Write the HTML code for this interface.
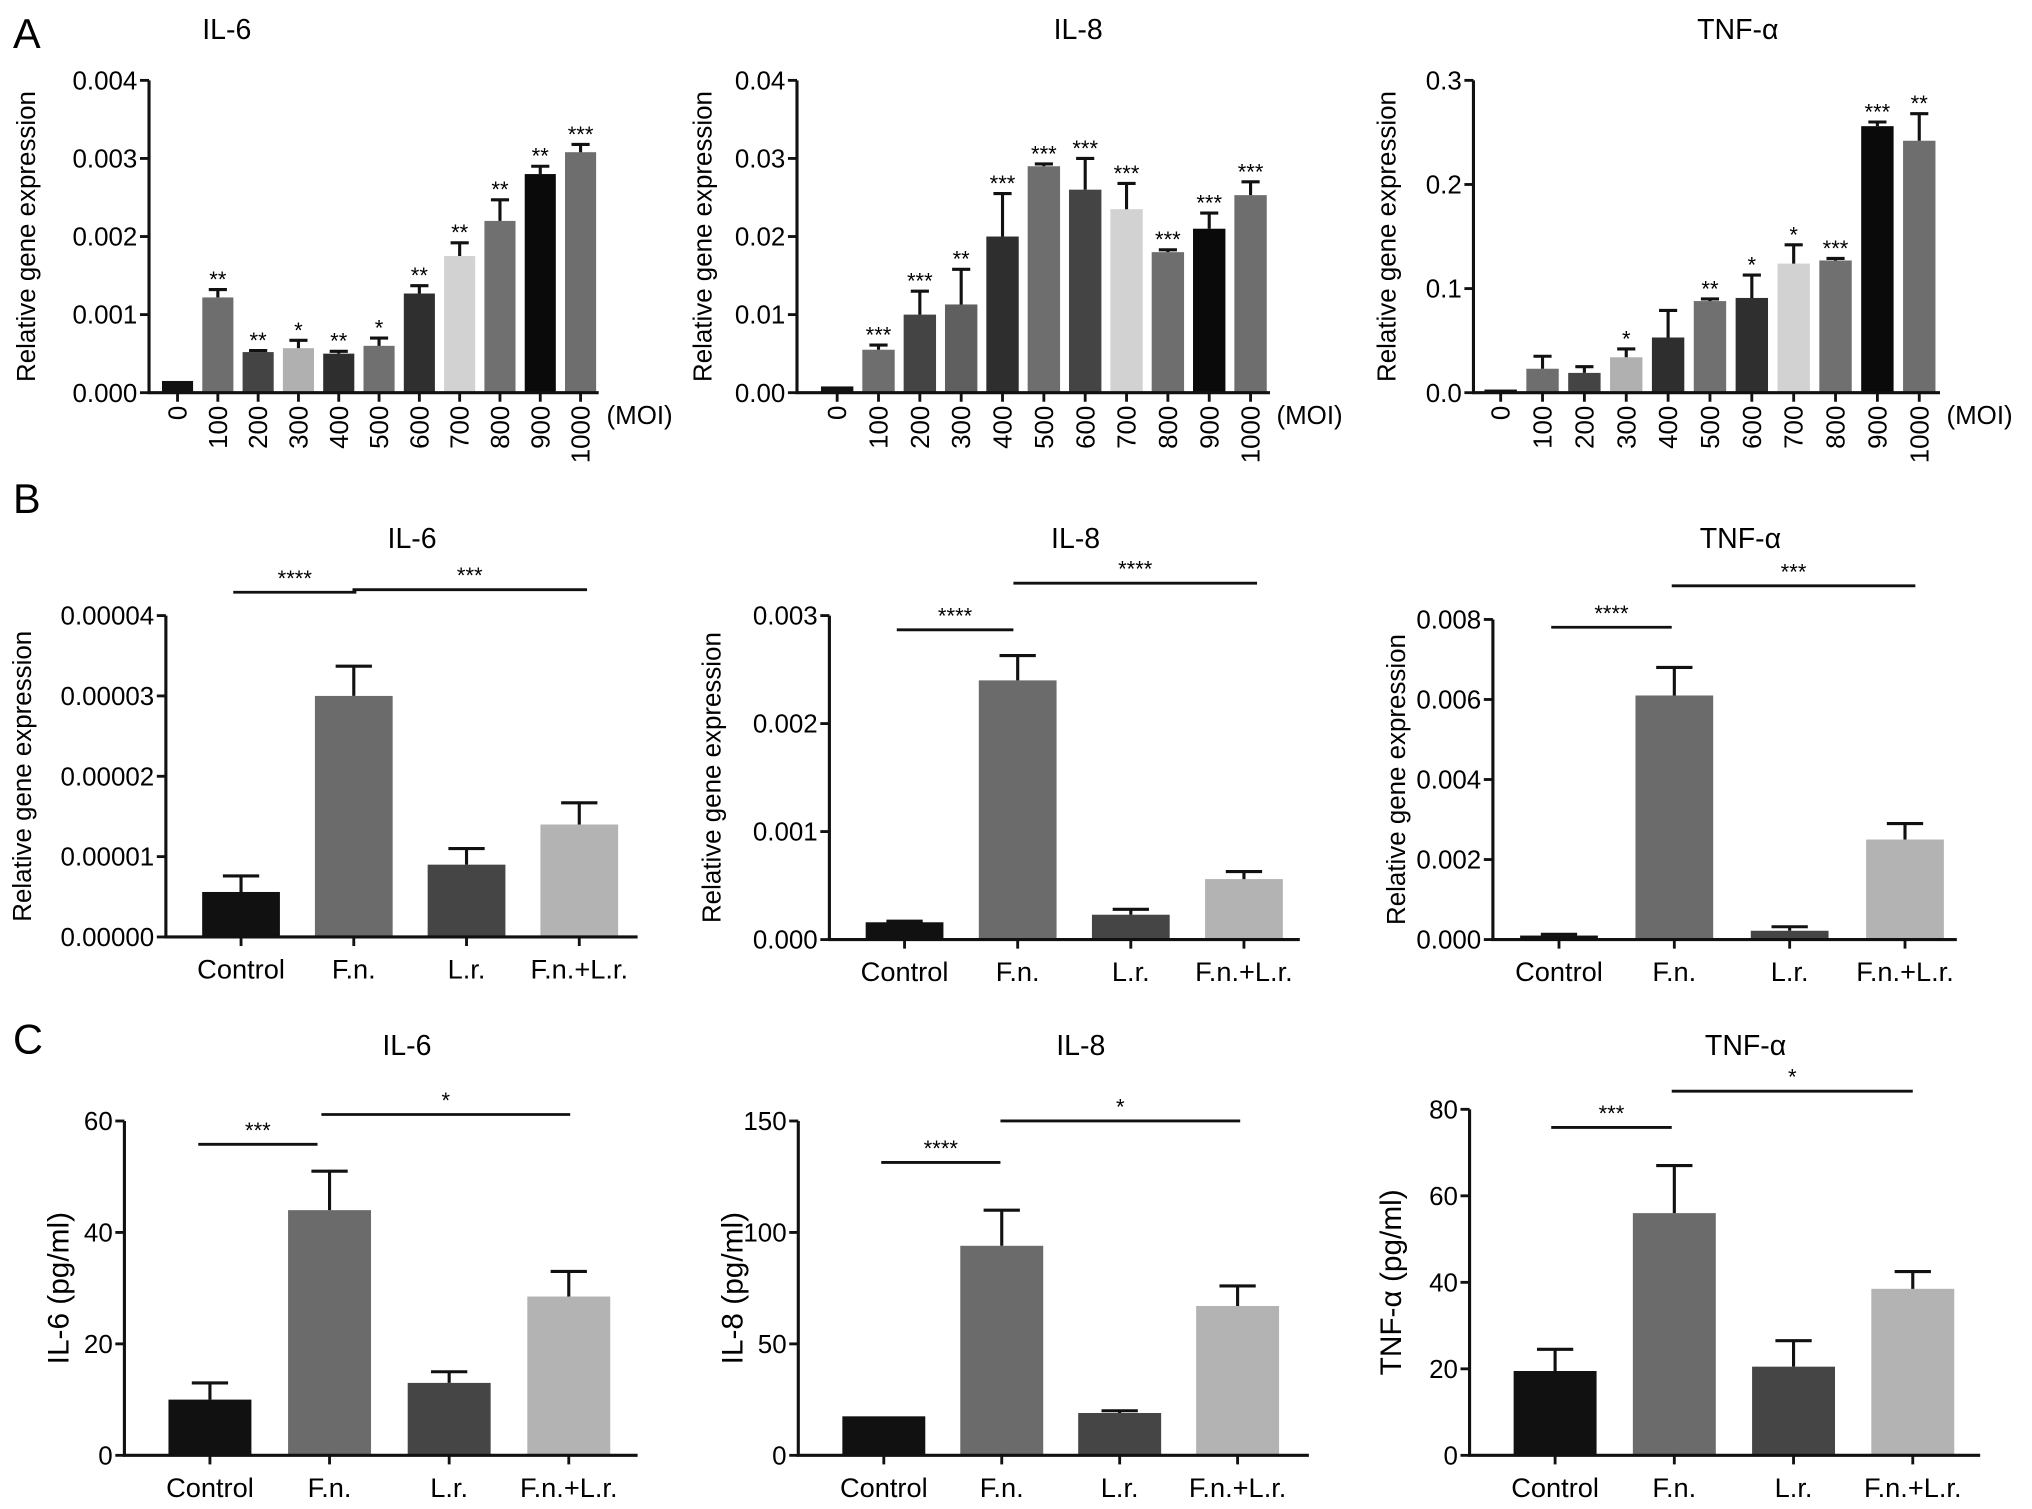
<!DOCTYPE html>
<html><head><meta charset="utf-8"><style>
html,body{margin:0;padding:0;background:#fff;}
svg{display:block;font-family:"Liberation Sans",Arial,sans-serif;}
</style></head><body>
<svg id="fig" width="2032" height="1509" viewBox="0 0 1568 1164.4" xmlns="http://www.w3.org/2000/svg">
<text x="10" y="37" font-size="32">A</text>
<text x="10" y="396" font-size="32">B</text>
<text x="10" y="813" font-size="32">C</text>
</svg>
<script>
// ---- data ----
const moiCats = ["0","100","200","300","400","500","600","700","800","900","1000"];
const groupCats = ["Control","F.n.","L.r.","F.n.+L.r."];

const aIl6Vals = [0.00015,0.00122,0.00052,0.00057,0.0005,0.0006,0.00127,0.00175,0.0022,0.0028,0.00308];
const aIl6Errs = [0,0.0001,0.00002,0.0001,0.00003,0.0001,0.0001,0.00017,0.00027,0.0001,0.0001];
const aIl6Stars = ["","**","**","*","**","*","**","**","**","**","***"];
const aIl6Ticks = [0,0.001,0.002,0.003,0.004];
const aIl6TickLabels = ["0.000","0.001","0.002","0.003","0.004"];

const aIl8Vals = [0.0008,0.0055,0.010,0.0113,0.020,0.029,0.026,0.0235,0.018,0.021,0.0253];
const aIl8Errs = [0,0.0006,0.003,0.0045,0.0055,0.0003,0.004,0.0033,0.0003,0.002,0.0017];
const aIl8Stars = ["","***","***","**","***","***","***","***","***","***","***"];
const aIl8Ticks = [0,0.01,0.02,0.03,0.04];
const aIl8TickLabels = ["0.00","0.01","0.02","0.03","0.04"];

const aTnfVals = [0.003,0.023,0.019,0.034,0.053,0.088,0.091,0.124,0.127,0.256,0.242];
const aTnfErrs = [0,0.012,0.006,0.008,0.026,0.002,0.022,0.018,0.002,0.004,0.026];
const aTnfStars = ["","","","*","","**","*","*","***","***","**"];
const aTnfTicks = [0,0.1,0.2,0.3];
const aTnfTickLabels = ["0.0","0.1","0.2","0.3"];

const bIl6Vals = [0.0000056,0.00003,0.000009,0.000014];
const bIl6Errs = [0.000002,0.0000037,0.000002,0.0000027];
const bIl6Ticks = [0,0.00001,0.00002,0.00003,0.00004];
const bIl6TickLabels = ["0.00000","0.00001","0.00002","0.00003","0.00004"];

const bIl8Vals = [0.00016,0.0024,0.00023,0.00056];
const bIl8Errs = [0.00001,0.00023,0.00005,0.00007];
const bIl8Ticks = [0,0.001,0.002,0.003];
const bIl8TickLabels = ["0.000","0.001","0.002","0.003"];

const bTnfVals = [0.0001,0.0061,0.00022,0.0025];
const bTnfErrs = [0.00003,0.0007,0.0001,0.0004];
const bTnfTicks = [0,0.002,0.004,0.006,0.008];
const bTnfTickLabels = ["0.000","0.002","0.004","0.006","0.008"];

const cIl6Vals = [10,44,13,28.5];
const cIl6Errs = [3,7,2,4.5];
const cIl6Ticks = [0,20,40,60];
const cIl6TickLabels = ["0","20","40","60"];

const cIl8Vals = [17.5,94,19,67];
const cIl8Errs = [0,16,1,9];
const cIl8Ticks = [0,50,100,150];
const cIl8TickLabels = ["0","50","100","150"];

const cTnfVals = [19.5,56,20.5,38.5];
const cTnfErrs = [5,11,6,4];
const cTnfTicks = [0,20,40,60,80];
const cTnfTickLabels = ["0","20","40","60","80"];

const moiColorsA = ["#111","#6e6e6e","#444","#b0b0b0","#2e2e2e","#707070","#2f2f2f","#d2d2d2","#707070","#0a0a0a","#6e6e6e"];
const moiColorsB = ["#111","#6e6e6e","#444","#5f5f5f","#2e2e2e","#6e6e6e","#444","#d2d2d2","#6e6e6e","#0a0a0a","#6e6e6e"];
const grpColors = ["#111","#6b6b6b","#454545","#b3b3b3"];

// ---- drawing ----
const NS="http://www.w3.org/2000/svg";
const svg=document.getElementById('fig');
function mk(tag,attrs,parent){const e=document.createElementNS(NS,tag);for(const k in attrs)e.setAttribute(k,attrs[k]);(parent||svg).appendChild(e);return e;}

function chart(cfg){
  const g=mk('g',{});
  
  
  const ymax=cfg.ticks[cfg.ticks.length-1];
  const yS=v=>cfg.y0-(v/ymax)*(cfg.y0-cfg.ytop);
  const xS=i=>cfg.x0+i*cfg.step;
  const t=mk('text',{x:cfg.tx,y:cfg.ty,'font-size':22,'text-anchor':'middle'},g);
  t.textContent=cfg.title;
  
  
  const yl=mk('text',{x:cfg.ylx,y:(cfg.y0+cfg.ytop)/2,'font-size':cfg.ylFs||20,'text-anchor':'middle',transform:`rotate(-90 ${cfg.ylx} ${(cfg.y0+cfg.ytop)/2})`},g);
  yl.textContent=cfg.ylabel;
  
  
  cfg.vals.forEach((v,i)=>{
    const cx=xS(i),y=yS(v);
    const r=mk('rect',{x:cx-cfg.bw/2,y:y,width:cfg.bw,height:cfg.y0-y,fill:cfg.colors[i]},g);
    
    
    const e=cfg.errs[i];
    if(e>0){
      const ye=yS(v+e);
      const l=mk('path',{d:`M${cx} ${y} V${ye} M${cx-cfg.cap} ${ye} H${cx+cfg.cap}`,stroke:'#111','stroke-width':2.4,fill:'none'},g);
      
      
    }
    if(cfg.stars&&cfg.stars[i]){
      const s=mk('text',{x:cx,y:yS(v+e)-2,'font-size':17,'text-anchor':'middle'},g);
      s.textContent=cfg.stars[i];
      
      
    }
  });
  const ax=mk('path',{d:`M${cfg.axx} ${cfg.ytop} V${cfg.y0} H${cfg.xend}`,stroke:'#111','stroke-width':2.4,fill:'none'},g);
  
  
  cfg.ticks.forEach((tv,j)=>{
    const y=yS(tv);
    mk('line',{x1:cfg.axx-7,x2:cfg.axx,y1:y,y2:y,stroke:'#111','stroke-width':2.2},g);
    const tl=mk('text',{x:cfg.axx-9,y:y+7,'font-size':20,'text-anchor':'end'},g);
    tl.textContent=cfg.tickLabels[j];
    
    
  });
  cfg.cats.forEach((c,i)=>{
    const cx=xS(i);
    mk('line',{x1:cx,x2:cx,y1:cfg.y0,y2:cfg.y0+7,stroke:'#111','stroke-width':2.2},g);
    let xl;
    if(cfg.rot){
      xl=mk('text',{x:cx+7,y:cfg.y0+10,'font-size':20,'text-anchor':'end',transform:`rotate(-90 ${cx+7} ${cfg.y0+10})`},g);
    }else{
      xl=mk('text',{x:cx,y:cfg.y0+32,'font-size':21,'text-anchor':'middle'},g);
    }
    xl.textContent=c;
    
    
  });
  if(cfg.moi){
    const m=mk('text',{x:cfg.moi,y:cfg.y0+24,'font-size':20},g);
    m.textContent='(MOI)';
    
    
  }
  if(cfg.sig){
    cfg.sig.forEach(s=>{
      const l=mk('line',{x1:s[0],x2:s[1],y1:s[2],y2:s[2],stroke:'#111','stroke-width':2.2},g);
      
      
      const st=mk('text',{x:(s[0]+s[1])/2,y:s[2]-5,'font-size':17,'text-anchor':'middle'},g);
      st.textContent=s[3];
      
      
    });
  }
}
const RGE="Relative gene expression";
chart({name:'chart-a-il6',title:'IL-6',tx:175,ty:30,ylabel:RGE,ylx:27,cats:moiCats,vals:aIl6Vals,errs:aIl6Errs,stars:aIl6Stars,ticks:aIl6Ticks,tickLabels:aIl6TickLabels,colors:moiColorsA,axx:115,y0:303,ytop:62,x0:137,step:31.1,bw:24,cap:7,xend:462,rot:true,moi:468});
chart({name:'chart-a-il8',title:'IL-8',tx:832,ty:30,ylabel:RGE,ylx:549,cats:moiCats,vals:aIl8Vals,errs:aIl8Errs,stars:aIl8Stars,ticks:aIl8Ticks,tickLabels:aIl8TickLabels,colors:moiColorsB,axx:615,y0:303,ytop:62,x0:646,step:31.9,bw:25,cap:7,xend:980,rot:true,moi:985});
chart({name:'chart-a-tnf',title:'TNF-α',tx:1341,ty:30,ylabel:RGE,ylx:1077,cats:moiCats,vals:aTnfVals,errs:aTnfErrs,stars:aTnfStars,ticks:aTnfTicks,tickLabels:aTnfTickLabels,colors:moiColorsA,axx:1137,y0:303,ytop:62,x0:1158,step:32.3,bw:25,cap:7,xend:1497,rot:true,moi:1502});

chart({name:'chart-b-il6',title:'IL-6',tx:318,ty:423,ylabel:RGE,ylx:24,cats:groupCats,vals:bIl6Vals,errs:bIl6Errs,ticks:bIl6Ticks,tickLabels:bIl6TickLabels,colors:grpColors,axx:128,y0:723,ytop:475,x0:186,step:87,bw:60,cap:14,xend:492,sig:[[180,275,457,'****'],[272,453,455,'***']]});
chart({name:'chart-b-il8',title:'IL-8',tx:830,ty:423,ylabel:RGE,ylx:556,cats:groupCats,vals:bIl8Vals,errs:bIl8Errs,ticks:bIl8Ticks,tickLabels:bIl8TickLabels,colors:grpColors,axx:640,y0:725,ytop:475,x0:698,step:87.3,bw:60,cap:14,xend:1003,sig:[[692,782,486,'****'],[782,970,450,'****']]});
chart({name:'chart-b-tnf',title:'TNF-α',tx:1343,ty:423,ylabel:RGE,ylx:1084,cats:groupCats,vals:bTnfVals,errs:bTnfErrs,ticks:bTnfTicks,tickLabels:bTnfTickLabels,colors:grpColors,axx:1152,y0:725,ytop:478,x0:1203,step:89,bw:60,cap:14,xend:1510,sig:[[1197,1290,484,'****'],[1290,1478,452,'***']]});

chart({name:'chart-c-il6',title:'IL-6',tx:314,ty:814,ylabel:'IL-6 (pg/ml)',ylFs:23,ylx:53,cats:groupCats,vals:cIl6Vals,errs:cIl6Errs,ticks:cIl6Ticks,tickLabels:cIl6TickLabels,colors:grpColors,axx:96,y0:1123,ytop:865,x0:162,step:92.3,bw:64,cap:14,xend:492,sig:[[153,245,883,'***'],[248,440,860,'*']]});
chart({name:'chart-c-il8',title:'IL-8',tx:834,ty:814,ylabel:'IL-8 (pg/ml)',ylFs:23,ylx:573,cats:groupCats,vals:cIl8Vals,errs:cIl8Errs,ticks:cIl8Ticks,tickLabels:cIl8TickLabels,colors:grpColors,axx:616,y0:1123,ytop:865,x0:682,step:91,bw:64,cap:14,xend:1010,sig:[[680,772,897,'****'],[772,957,865,'*']]});
chart({name:'chart-c-tnf',title:'TNF-α',tx:1347,ty:814,ylabel:'TNF-α (pg/ml)',ylFs:23,ylx:1081,cats:groupCats,vals:cTnfVals,errs:cTnfErrs,ticks:cTnfTicks,tickLabels:cTnfTickLabels,colors:grpColors,axx:1134,y0:1123,ytop:856,x0:1200,step:92,bw:64,cap:14,xend:1528,sig:[[1197,1290,870,'***'],[1290,1476,842,'*']]});
</script>
</body></html>
